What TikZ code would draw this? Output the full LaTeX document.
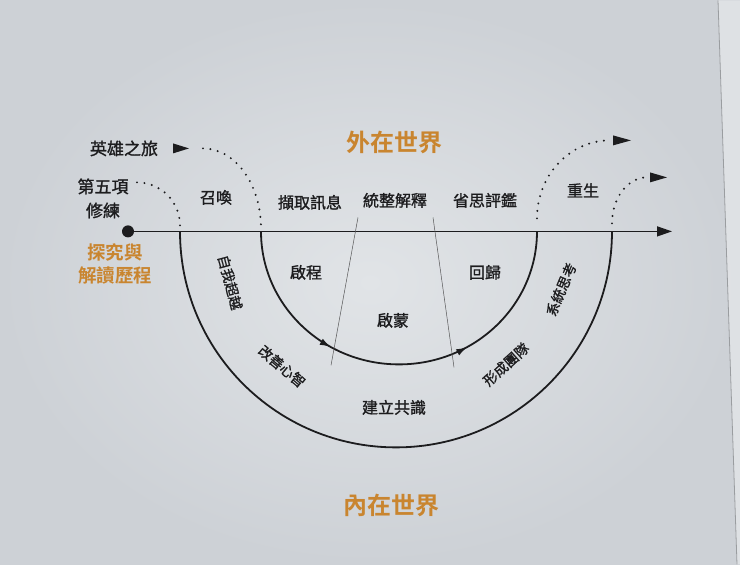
\documentclass[tikz,border=0pt]{standalone}
\usepackage{fontspec}
\setmainfont{Noto Sans CJK TC}[BoldFont={Noto Sans CJK TC Bold}]
\newfontfamily\medcjk{Noto Sans CJK TC}[FakeBold=1.2]
\usetikzlibrary{arrows.meta,decorations.markings}
\definecolor{bgin}{HTML}{E1E4E7}
\definecolor{bgout}{HTML}{CDD1D6}
\definecolor{ink}{HTML}{1C1C1E}
\definecolor{orng}{HTML}{C9852F}
\tikzset{
  lbl/.style={text=ink,inner sep=0pt,font=\medcjk\fontsize{16}{18}\selectfont},
  rlbl/.style={text=ink,inner sep=0pt,font=\medcjk\fontsize{14}{16}\selectfont},
  side/.style={text=ink,inner sep=0pt,align=center,font=\medcjk\fontsize{17}{24}\selectfont},
  world/.style={text=orng,inner sep=0pt,font=\fontsize{24}{26}\selectfont\bfseries},
  proc/.style={text=orng,inner sep=0pt,align=center,font=\fontsize{18.5}{23}\selectfont\bfseries},
  arcline/.style={draw=ink,line width=1.8pt},
  dots/.style={draw=ink,line width=2.2pt,line cap=round,dash pattern=on 0pt off 7.5pt},
  thin/.style={draw=ink!75,line width=0.5pt},
  headtri/.style={fill=ink},
  midarrows/.style={postaction={decorate},decoration={markings,
     mark=at position 0.333 with {\arrow{Latex[length=11pt,width=7pt]}},
     mark=at position 0.667 with {\arrow{Latex[length=11pt,width=7pt]}}}}
}
\begin{document}
\begin{tikzpicture}[x=1pt,y=1pt]
\shade[inner color=bgin,outer color=bgout] (0,0) rectangle (740,564);
\fill[white,opacity=0.35] (718,564) -- (740,564) -- (740,0) -- (737,0) -- cycle;
\draw[bgout!75!black,line width=0.8pt] (718,564) -- (737,0);
\useasboundingbox (0,0) rectangle (740,564);

% coordinates
\coordinate (start) at (128,333);
\coordinate (end) at (672,333);
\coordinate (oL) at (180,333);
\coordinate (iL) at (261,333);

% outer and inner arcs
\draw[arcline] (oL) arc[start angle=180,end angle=360,radius=216];
\draw[arcline,midarrows] (iL) arc[start angle=180,end angle=360,x radius=138,y radius=133];

% main line
\draw[draw=ink,line width=1.4pt,-{Triangle[length=15pt,width=10pt]}] (start) -- (end);
\fill[ink] (start) circle (6);

% thin separators
\coordinate (s1a) at (358,347); \coordinate (s1b) at (331,199);
\coordinate (s2a) at (433,347); \coordinate (s2b) at (454,197);
\draw[thin] (s1a) -- (s1b);
\draw[thin] (s2a) -- (s2b);

% dotted arcs
\draw[dots] (137,382) arc[start angle=90,end angle=0,radius=43];
\draw[dots] (203,416) arc[start angle=90,end angle=0,x radius=58,y radius=80];
\draw[dots] (537,346) arc[start angle=180,end angle=90,x radius=73,y radius=78];
\draw[dots] (612,341) arc[start angle=180,end angle=90,x radius=35,y radius=46];

% arrow heads
\fill[headtri] (173,421) -- (189,416) -- (173,411) -- cycle;
\fill[headtri] (613,429) -- (631,424) -- (613,419) -- cycle;
\fill[headtri] (650,392) -- (667,387) -- (650,382) -- cycle;

% labels
\node[side] (hero) at (124,416) {英雄之旅};
\node[side] (fifth) at (103,366) {第五項\\修練};
\node[proc] (inq) at (115,300) {探究與\\解讀歷程};
\node[lbl] (call) at (216,367) {召喚};
\node[world] (outer) at (394,422) {外在世界};
\node[world] (inner) at (391,59) {內在世界};
\node[lbl] (t1) at (310,362) {擷取訊息};
\node[lbl] (t2) at (395,364) {統整解釋};
\node[lbl] (t3) at (485,364) {省思評鑑};
\node[lbl] (reborn) at (583,374) {重生};
\node[lbl] (depart) at (306,292) {啟程};
\node[lbl] (return) at (485,292) {回歸};
\node[lbl] (enl) at (393,244) {啟蒙};
\node[lbl] (share) at (394,157) {建立共識};
\node[rlbl,rotate=-75] (self) at (230,282) {自我超越};
\node[rlbl,rotate=-40] (mind) at (282,198) {改善心智};
\node[rlbl,rotate=42] (team) at (506,200) {形成團隊};
\node[rlbl,rotate=67] (sys) at (561,275) {系統思考};
\end{tikzpicture}
\end{document}
